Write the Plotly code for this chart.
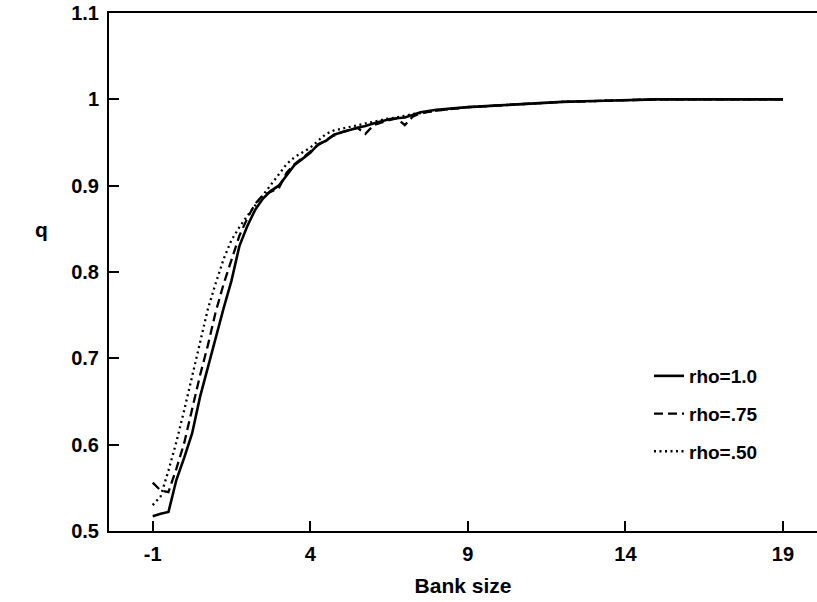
import plotly.graph_objects as go

# Bank size grid (shared by the three simulations)
bank_size = [-1, -0.75, -0.5, -0.25, 0, 0.25, 0.5, 0.75, 1.0, 1.25, 1.5, 1.75,
             2.0, 2.25, 2.5, 2.75, 3.0, 3.25, 3.5, 3.75, 4.0, 4.25, 4.5, 4.75,
             5.0, 5.5, 5.75, 6.0, 6.5, 6.75, 7.0, 7.25, 7.5, 8, 9, 10, 11, 12,
             13, 14, 15, 16, 17, 18, 19]

q_rho_100 = [0.517, 0.520, 0.522, 0.559, 0.585, 0.613, 0.655, 0.690, 0.726,
             0.758, 0.790, 0.830, 0.853, 0.872, 0.885, 0.894, 0.900, 0.912,
             0.924, 0.931, 0.938, 0.948, 0.952, 0.959, 0.962, 0.967, 0.969,
             0.972, 0.977, 0.978, 0.979, 0.982, 0.985, 0.988, 0.991, 0.993,
             0.995, 0.997, 0.998, 0.999, 1.000, 1.000, 1.000, 1.000, 1.000]

q_rho_075 = [0.556, 0.547, 0.545, 0.572, 0.602, 0.642, 0.680, 0.715, 0.754,
             0.786, 0.815, 0.842, 0.862, 0.879, 0.889, 0.893, 0.897, 0.915,
             0.925, 0.932, 0.940, 0.947, 0.953, 0.958, 0.962, 0.967, 0.960,
             0.970, 0.976, 0.978, 0.970, 0.980, 0.984, 0.987, 0.991, 0.993,
             0.995, 0.997, 0.998, 0.999, 1.000, 1.000, 1.000, 1.000, 1.000]

q_rho_050 = [0.530, 0.540, 0.570, 0.603, 0.640, 0.680, 0.717, 0.757, 0.787,
             0.815, 0.837, 0.852, 0.865, 0.877, 0.889, 0.900, 0.912, 0.925,
             0.933, 0.939, 0.944, 0.952, 0.960, 0.964, 0.966, 0.970, 0.972,
             0.974, 0.978, 0.979, 0.981, 0.983, 0.984, 0.987, 0.991, 0.993,
             0.995, 0.997, 0.998, 0.999, 1.000, 1.000, 1.000, 1.000, 1.000]

series = [
    ("rho=1.0", q_rho_100, "solid", 2.6),
    ("rho=.75", q_rho_075, "9px,5px", 2.3),
    ("rho=.50", q_rho_050, "2px,3.5px", 2.3),
]

x_ticks = [-1, 4, 9, 14, 19]
x_tick_text = ["-1", "4", "9", "14", "19"]
y_ticks = [0.5, 0.6, 0.7, 0.8, 0.9, 1.0, 1.1]
y_tick_text = ["0.5", "0.6", "0.7", "0.8", "0.9", "1", "1.1"]

FONT = "Liberation Sans"

fig = go.Figure()
for i, (name, q, dash, w) in enumerate(series):
    fig.add_trace(go.Scatter(
        x=bank_size, y=q, mode="lines", name=name,
        legendgroup=f"g{i}",
        line=dict(color="black", width=w, dash=dash),
    ))

axis_common = dict(
    showline=True, linecolor="black", linewidth=2,
    ticks="inside", ticklen=10, tickwidth=2, tickcolor="black",
    showgrid=False, zeroline=False,
    tickfont=dict(family=FONT, size=20, color="black", weight="bold"),
)

fig.update_layout(
    width=817, height=602,
    margin=dict(l=109, r=0, t=13, b=71),
    paper_bgcolor="white", plot_bgcolor="white",
    showlegend=True,
    legend=dict(
        x=(649 - 109) / 708, y=(531 - 357) / 518,
        xanchor="left", yanchor="top",
        bgcolor="rgba(0,0,0,0)", borderwidth=0,
        tracegroupgap=10,
        font=dict(family=FONT, size=19, color="black", weight="bold"),
    ),
    xaxis=dict(
        range=[-2.387, 20.08], tickvals=x_ticks, ticktext=x_tick_text,
        mirror=True, ticklabelstandoff=4,
        title=dict(text="Bank size", standoff=14,
                   font=dict(family=FONT, size=21, color="black", weight="bold")),
        **axis_common,
    ),
    yaxis=dict(
        range=[0.5, 1.1], tickvals=y_ticks, ticktext=y_tick_text,
        ticklabelstandoff=4,
        **axis_common,
    ),
    annotations=[dict(
        text="q", xref="paper", yref="paper",
        x=(41 - 109) / 708, y=(531 - 229) / 518,
        showarrow=False, xanchor="center", yanchor="middle",
        font=dict(family=FONT, size=21, color="black", weight="bold"),
    )],
)

fig.write_html("out.html")
